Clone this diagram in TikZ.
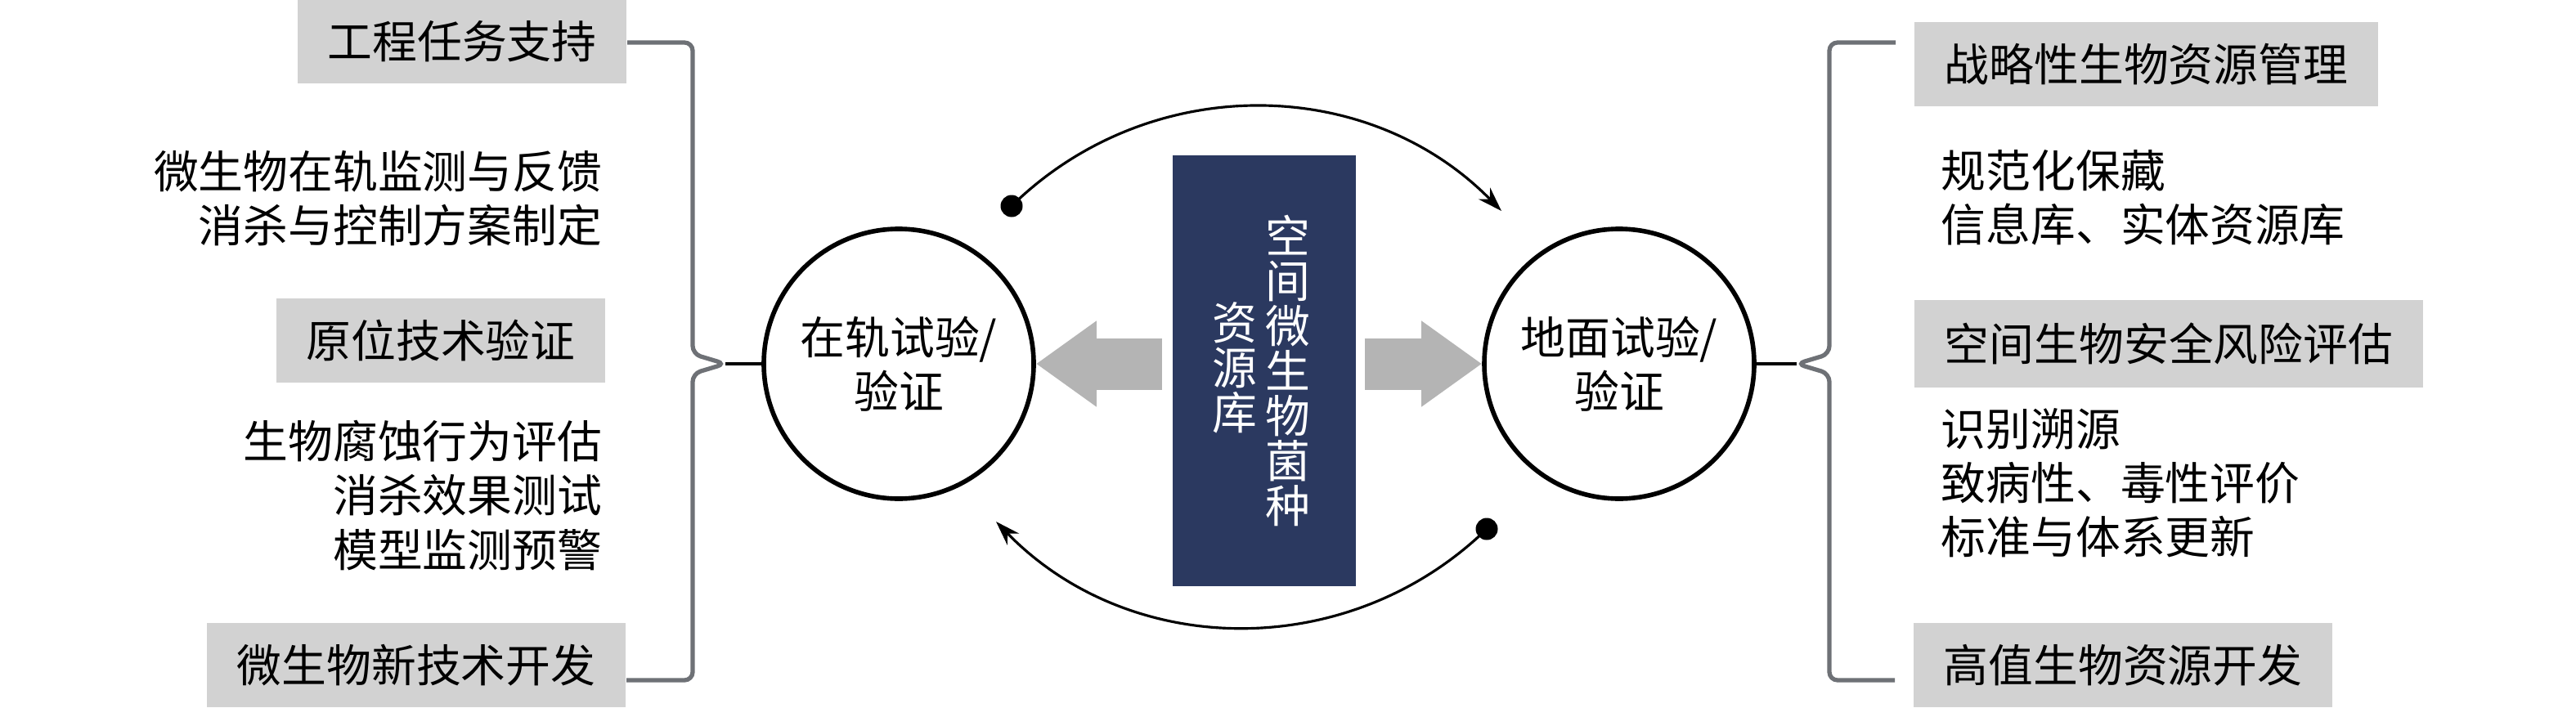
\documentclass[tikz,border=0pt]{standalone}
\usepackage{fontspec}
\usepackage{tikz}
\usetikzlibrary{calc, arrows.meta}
\newfontfamily\cjk{Noto Sans CJK SC}
\newcommand\labelfont{\cjk\fontsize{15.6}{18.8}\selectfont\lineskiplimit -20pt\relax}
\newcommand\columnfont{\cjk\fontsize{15.6}{15.65}\selectfont\lineskiplimit -20pt\relax}
\definecolor{tagfill}{RGB}{210,210,210}
\definecolor{bankblue}{RGB}{43,57,96}
\definecolor{arrowgray}{RGB}{180,180,180}
\definecolor{bracegray}{RGB}{110,113,118}

\begin{document}
\begin{tikzpicture}[
	every node/.style={font=\labelfont},
	tagbox/.style={fill=tagfill, inner xsep=0.37cm, inner ysep=0, minimum height=1.03cm, text centered},
	itemtext/.style={inner sep=0},
	stage/.style={circle, draw, line width=1.6pt, minimum size=3.3cm, inner sep=0, align=center},
	cycle/.style={line width=0.9pt, -{Stealth[length=0.3cm, width=0.2cm]}},
	fat/.style={arrowgray, line width=0.63cm, -{Triangle[length=0.74cm 0 0, width=1cm 0 0]}},
	brace/.style={bracegray, line width=1.5pt, rounded corners=0.1cm}
]
	\useasboundingbox (0,0) rectangle (31.5,8.65);

	% nodes - left column %
	\node[tagbox] (eng) at (5.65,8.145) {工程任务支持};
	\node[itemtext, anchor=east, align=right] (engitems) at (7.37,6.22) {微生物在轨监测与反馈\\消杀与控制方案制定};
	\node[tagbox] (insitu) at (5.39,4.485) {原位技术验证};
	\node[itemtext, anchor=east, align=right] (insituitems) at (7.37,2.59) {生物腐蚀行为评估\\消杀效果测试\\模型监测预警};
	\node[tagbox] (newtech) at (5.09,0.515) {微生物新技术开发};

	% nodes - right column %
	\node[tagbox] (strat) at (26.245,7.865) {战略性生物资源管理};
	\node[itemtext, anchor=west, align=left] (stratitems) at (23.73,6.23) {规范化保藏\\信息库、实体资源库};
	\node[tagbox, minimum height=1.07cm] (risk) at (26.52,4.45) {空间生物安全风险评估};
	\node[itemtext, anchor=west, align=left] (riskitems) at (23.73,2.74) {识别溯源\\致病性、毒性评价\\标准与体系更新};
	\node[tagbox] (hival) at (25.96,0.515) {高值生物资源开发};

	% nodes - centre %
	\node[stage] (orbit) at (10.99,4.2) {在轨试验/\\验证};
	\node[stage] (ground) at (19.80,4.2) {地面试验/\\验证};
	\node[fill=bankblue, minimum width=2.24cm, minimum height=5.27cm, inner sep=0] (bank) at (15.46,4.115) {};
	\node[text=white, align=center, inner sep=0, font=\columnfont] (banka) at (15.75,4.12) {空\\间\\微\\生\\物\\菌\\种};
	\node[text=white, align=center, inner sep=0, font=\columnfont] (bankb) at (15.10,4.15) {资\\源\\库};

	% cycle arrows %
	\coordinate (dtl) at (12.37,6.13);
	\coordinate (etr) at (18.36,6.07);
	\coordinate (dbr) at (18.18,2.18);
	\coordinate (ebl) at (12.18,2.27);
	\draw[cycle] (dtl) to[bend left=45] (etr);
	\draw[cycle] (dbr) to[bend left=45] (ebl);
	\fill (dtl) circle[radius=0.135];
	\fill (dbr) circle[radius=0.135];

	% gray arrows out of the bank %
	\draw[fat] ($(bank.west |- orbit.east)+(-0.12,0)$) -- (orbit.east);
	\draw[fat] ($(bank.east |- ground.west)+(0.1,0)$) -- (ground.west);

	% braces %
	\coordinate (lbtop) at (8.47,8.13);
	\coordinate (lbbot) at (8.47,0.33);
	\coordinate (lbtip) at (8.87,4.2);
	\draw[brace] (eng.east |- lbtop) -- (lbtop) -- (8.47,4.32) -- (lbtip) -- (8.47,4.08) -- (lbbot) -- (newtech.east |- lbbot);
	\draw[line width=1.2pt] (lbtip) -- (orbit.west);

	\coordinate (rbtop) at (22.37,8.13);
	\coordinate (rbbot) at (22.37,0.33);
	\coordinate (rbtip) at (21.97,4.2);
	\draw[brace] ($(strat.west |- rbtop)+(-0.22,0)$) -- (rbtop) -- (22.37,4.32) -- (rbtip) -- (22.37,4.08) -- (rbbot) -- ($(hival.west |- rbbot)+(-0.22,0)$);
	\draw[line width=1.2pt] (rbtip) -- (ground.east);

\end{tikzpicture}
\end{document}
